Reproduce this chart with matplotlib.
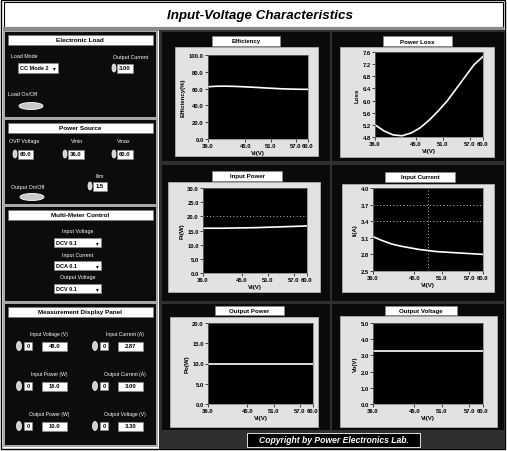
import matplotlib
matplotlib.use("Agg")
import matplotlib.pyplot as plt
from matplotlib.patches import Rectangle, Ellipse

plt.rcParams["font.family"] = ["Liberation Sans", "DejaVu Sans"]

# values
vin = [36, 38, 40, 42, 44, 46, 48, 50, 52, 54, 56, 58, 60]
efficiency = [62.2, 62.8, 62.9, 62.7, 62.3, 61.8, 61.3, 60.7, 60.2, 59.7, 59.4, 59.2, 59.1]
power_loss = [5.20, 5.00, 4.87, 4.84, 4.93, 5.10, 5.35, 5.65, 5.98, 6.38, 6.78, 7.18, 7.45]
input_power = [15.8, 15.8, 15.8, 15.85, 15.9, 15.95, 16.0, 16.1, 16.2, 16.3, 16.4, 16.5, 16.6]
input_current = [3.12, 3.05, 2.99, 2.95, 2.92, 2.89, 2.87, 2.85, 2.84, 2.83, 2.82, 2.81, 2.80]
output_power = [10.0, 10.0, 10.0, 10.0, 10.0, 10.0, 10.0, 10.0, 10.0, 10.0, 10.0, 10.0, 10.0]
output_voltage = [3.25, 3.25, 3.25, 3.25, 3.25, 3.25, 3.25, 3.25, 3.25, 3.25, 3.25, 3.25, 3.25]

vin_ticks = [36, 45, 51, 57, 60]
eff_ticks = [0, 20, 40, 60, 80, 100]
loss_ticks = [4.8, 5.2, 5.6, 6.0, 6.4, 6.8, 7.2, 7.6]
pin_ticks = [0, 5, 10, 15, 20, 25, 30]
iin_ticks = [2.5, 2.8, 3.1, 3.4, 3.7, 4.0]
pout_ticks = [0, 5, 10, 15, 20]
vout_ticks = [0, 1, 2, 3, 4, 5]

W, H = 507, 452
fig = plt.figure(figsize=(W / 100, H / 100), dpi=100)
fig.patch.set_facecolor("white")

bg = fig.add_axes([0, 0, 1, 1])
bg.set_xlim(0, W)
bg.set_ylim(H, 0)
bg.axis("off")


def box(x0, y0, x1, y1, fc, ec="none", lw=0.6):
    bg.add_patch(Rectangle((x0, y0), x1 - x0, y1 - y0, facecolor=fc, edgecolor=ec, linewidth=lw))


def txt(x, y, s, size=4, color="white", ha="center", **kw):
    bg.text(x, y, s, fontsize=size, color=color, ha=ha, va="center", **kw)


def numeric(x, y, val, w=16):
    # little LabVIEW numeric control: spinner + value box
    bg.add_patch(Ellipse((x + 2, y), 4, 8, facecolor="#d0d0d0", edgecolor="white", linewidth=0.5))
    box(x + 5, y - 4.5, x + 5 + w, y + 4.5, "white", "#888888", 0.5)
    txt(x + 5 + w / 2, y, val, size=4.2, color="black", fontweight="bold")


def dropdown(x0, y0, x1, y1, val):
    box(x0, y0, x1, y1, "white", "#888888", 0.5)
    txt(x0 + 2, (y0 + y1) / 2, val, size=4, color="black", ha="left", fontweight="bold")
    txt(x1 - 4, (y0 + y1) / 2, "\u25be", size=4, color="black")


def switch(x, y):
    bg.add_patch(Ellipse((x, y), 24, 7, facecolor="#c8c8c8", edgecolor="white", linewidth=0.6))


# outer frame + title
box(1, 1, 505, 450, "white", "black", 1.0)
box(4, 3, 503, 28, "white", "black", 0.8)
txt(260, 15.5, "Input-Voltage Characteristics", size=9.6, color="black",
    fontweight="bold", fontstyle="italic")
box(3, 28, 504, 32, "#8a8a8a")

# left column
box(3, 32, 158, 448, "#a8a8a8")
panels = [(33, 118, "Electronic Load"), (121, 205, "Power Source"),
          (208, 302, "Multi-Meter Control"), (305, 446, "Measurement Display Panel")]
for y0, y1, name in panels:
    box(5, y0, 156, y1, "#0c0c0c")
    box(8, y0 + 3, 153, y0 + 13, "white", "#777777", 0.5)
    txt(80, y0 + 8, name, size=4.6, color="black", fontweight="bold")

# Electronic Load
txt(24, 57, "Load Mode", size=3.8)
dropdown(18, 64, 58, 74, "CC Mode 2")
txt(131, 57, "Output Current", size=3.8)
numeric(112, 69, "3.00", w=16)
txt(22, 95, "Load On/Off", size=3.8)
switch(31, 107)

# Power Source
txt(24, 142, "OVP Voltage", size=3.8)
txt(77, 142, "Vmin", size=3.8)
txt(124, 142, "Vmax", size=3.8)
numeric(13, 155, "60.0", w=15)
numeric(63, 155, "36.0", w=16)
numeric(112, 155, "60.0", w=16)
txt(100, 177, "Ilim", size=3.8)
txt(28, 188, "Output On/Off", size=3.8)
numeric(88, 187, "1.5", w=14)
switch(32, 198)

# Multi-Meter Control
mm_labels = ["Input Voltage", "Input Current", "Output Voltage"]
mm_modes = ["DCV 0.1", "DCA 0.1", "DCV 0.1"]
for i, (lab, mode) in enumerate(zip(mm_labels, mm_modes)):
    txt(78, 232 + 23 * i, lab, size=3.8)
    dropdown(54, 239 + 23 * i, 101, 248 + 23 * i, mode)

# Measurement Display Panel
md_labels = ["Input Voltage (V)", "Input Current (A)", "Input Power (W)",
             "Output Current (A)", "Output Power (W)", "Output Voltage (V)"]
md_values = ["48.0", "2.87", "16.0", "3.00", "10.0", "3.30"]
for i, (lab, val) in enumerate(zip(md_labels, md_values)):
    col, row = i % 2, i // 2
    xo = 17 if col == 0 else 93
    yc = 347 + 40 * row
    txt(xo + 32, yc - 12, lab, size=3.6)
    bg.add_patch(Ellipse((xo + 2, yc), 5, 9, facecolor="#d0d0d0", edgecolor="white", linewidth=0.5))
    box(xo + 7, yc - 4, xo + 15, yc + 4, "white", "#888888", 0.5)
    txt(xo + 11, yc, "0", size=4, color="black", fontweight="bold")
    box(xo + 25, yc - 4.5, xo + 50, yc + 4.5, "white", "#888888", 0.5)
    txt(xo + 37.5, yc, val, size=4.2, color="black", fontweight="bold")

# chart area background
box(159, 31, 505, 450, "#2f2f2f")

charts = [
    dict(title="Efficiency", ylabel="Efficiency(%)", y=efficiency, yt=eff_ticks,
         panel=(162, 33, 330, 162), tb=(212, 37, 280, 47), plate=(175, 48, 318, 157),
         ax=(208, 56, 308, 140), grid=[]),
    dict(title="Power Loss", ylabel="Loss", y=power_loss, yt=loss_ticks,
         panel=(332, 33, 504, 162), tb=(383, 37, 452, 47), plate=(340, 48, 494, 158),
         ax=(375, 53, 483, 138), grid=[]),
    dict(title="Input Power", ylabel="Pi(W)", y=input_power, yt=pin_ticks,
         panel=(162, 166, 330, 302), tb=(212, 172, 282, 182), plate=(168, 183, 320, 293),
         ax=(203, 189, 307, 274), grid=[("h", 20)]),
    dict(title="Input Current", ylabel="Ii(A)", y=input_current, yt=iin_ticks,
         panel=(332, 166, 504, 302), tb=(385, 173, 455, 183), plate=(342, 185, 494, 293),
         ax=(373, 189, 483, 272), grid=[("h", 3.4), ("h", 3.7), ("v", 48)]),
    dict(title="Output Power", ylabel="Po(W)", y=output_power, yt=pout_ticks,
         panel=(162, 305, 330, 431), tb=(215, 307, 284, 316), plate=(170, 318, 318, 428),
         ax=(208, 324, 313, 405), grid=[]),
    dict(title="Output Voltage", ylabel="Vo(V)", y=output_voltage, yt=vout_ticks,
         panel=(332, 305, 504, 431), tb=(385, 307, 457, 316), plate=(340, 317, 497, 428),
         ax=(373, 324, 483, 405), grid=[]),
]

for c in charts:
    box(*c["panel"], "#0a0a0a")
    box(*c["plate"], "#e2e2e2", "#bbbbbb", 0.5)
    box(*c["tb"], "white", "#888888", 0.5)
    tx0, ty0, tx1, ty1 = c["tb"]
    txt((tx0 + tx1) / 2, (ty0 + ty1) / 2, c["title"], size=4.4, color="black", fontweight="bold")

    x0, y0, x1, y1 = c["ax"]
    ax = fig.add_axes([x0 / W, 1 - y1 / H, (x1 - x0) / W, (y1 - y0) / H])
    ax.set_facecolor("black")
    ax.plot(vin, c["y"], color="white", lw=1.2)
    for kind, v in c["grid"]:
        if kind == "h":
            ax.axhline(v, color="white", lw=0.6, ls=(0, (1, 3)))
        else:
            ax.axvline(v, color="white", lw=0.6, ls=(0, (1, 3)))
    ax.set_xlim(36, 60)
    ax.set_ylim(c["yt"][0], c["yt"][-1])
    ax.set_xticks(vin_ticks)
    ax.set_xticklabels([f"{t:.1f}" for t in vin_ticks])
    ax.set_yticks(c["yt"])
    ax.set_yticklabels([f"{t:.1f}" for t in c["yt"]])
    ax.tick_params(labelsize=4.2, length=2, width=0.5, pad=1, colors="black")
    for lab in ax.get_xticklabels() + ax.get_yticklabels():
        lab.set_fontweight("bold")
    for sp in ax.spines.values():
        sp.set_color("#777777")
        sp.set_linewidth(0.5)
    ax.set_xlabel("Vi(V)", fontsize=4.4, fontweight="bold", labelpad=1)
    ax.set_ylabel(c["ylabel"], fontsize=4.4, fontweight="bold", labelpad=2)

# copyright strip
box(247, 434, 420, 448, "black", "white", 0.6)
txt(333.5, 441, "Copyright by Power Electronics Lab.", size=6.2, fontweight="bold",
    fontstyle="italic")

fig.savefig("out.png", dpi=100, facecolor=fig.get_facecolor())
